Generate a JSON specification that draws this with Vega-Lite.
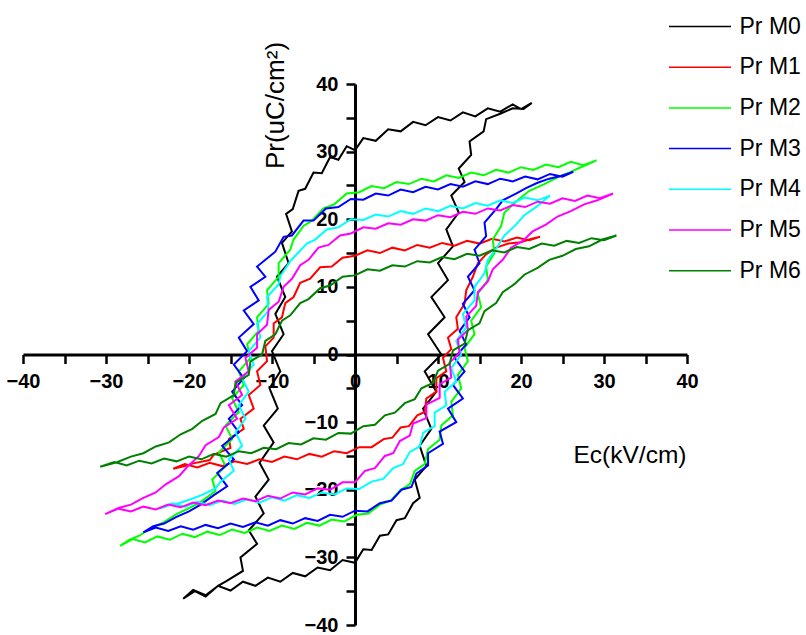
{
"$schema":"https://vega.github.io/schema/vega-lite/v6.json",
"width":664,"height":541,
"autosize":{"type":"none"},
"padding":{"left":23,"top":84,"right":119,"bottom":10},
"background":"white",
"config":{"view":{"stroke":null},"font":"Liberation Sans"},
"data":{"values":[
{"s":"Pr M0","E":21.3,"P":37.2},{"s":"Pr M0","E":20,"P":36.3},{"s":"Pr M0","E":19,"P":37.0},{"s":"Pr M0","E":17.5,"P":35.9},{"s":"Pr M0","E":16,"P":36.4},{"s":"Pr M0","E":14.5,"P":35.2},{"s":"Pr M0","E":13,"P":35.8},{"s":"Pr M0","E":11.5,"P":34.6},{"s":"Pr M0","E":10,"P":35.1},{"s":"Pr M0","E":8.5,"P":33.9},{"s":"Pr M0","E":7,"P":34.4},{"s":"Pr M0","E":5.5,"P":33.0},{"s":"Pr M0","E":4,"P":33.3},{"s":"Pr M0","E":2.5,"P":31.6},{"s":"Pr M0","E":1,"P":32.0},{"s":"Pr M0","E":0,"P":30.2},{"s":"Pr M0","E":-1,"P":30.8},{"s":"Pr M0","E":-2,"P":28.8},{"s":"Pr M0","E":-3,"P":29.2},{"s":"Pr M0","E":-4,"P":26.8},{"s":"Pr M0","E":-5,"P":26.9},{"s":"Pr M0","E":-6,"P":24.5},{"s":"Pr M0","E":-6.8,"P":24.2},{"s":"Pr M0","E":-7.5,"P":21.5},{"s":"Pr M0","E":-8.3,"P":20.8},{"s":"Pr M0","E":-7.6,"P":18.2},{"s":"Pr M0","E":-8.8,"P":16.5},{"s":"Pr M0","E":-8.0,"P":13.5},{"s":"Pr M0","E":-9.4,"P":11.5},{"s":"Pr M0","E":-8.4,"P":8.5},{"s":"Pr M0","E":-9.6,"P":6},{"s":"Pr M0","E":-8.6,"P":3},{"s":"Pr M0","E":-10,"P":0.5},{"s":"Pr M0","E":-9,"P":-2.5},{"s":"Pr M0","E":-10.3,"P":-5},{"s":"Pr M0","E":-9.3,"P":-8},{"s":"Pr M0","E":-11,"P":-10.5},{"s":"Pr M0","E":-9.8,"P":-13},{"s":"Pr M0","E":-11.5,"P":-16},{"s":"Pr M0","E":-10.4,"P":-18.5},{"s":"Pr M0","E":-12,"P":-21},{"s":"Pr M0","E":-11,"P":-23.5},{"s":"Pr M0","E":-12.8,"P":-26},{"s":"Pr M0","E":-11.8,"P":-28},{"s":"Pr M0","E":-13.8,"P":-30},{"s":"Pr M0","E":-13.5,"P":-32},{"s":"Pr M0","E":-15.5,"P":-33.5},{"s":"Pr M0","E":-16.5,"P":-34.2},{"s":"Pr M0","E":-18,"P":-35.8},{"s":"Pr M0","E":-19.3,"P":-35},{"s":"Pr M0","E":-20.7,"P":-36.1},
{"s":"Pr M0","E":-19.5,"P":-34.8},{"s":"Pr M0","E":-18,"P":-35.6},{"s":"Pr M0","E":-16.5,"P":-34.2},{"s":"Pr M0","E":-15,"P":-34.9},{"s":"Pr M0","E":-13.5,"P":-33.6},{"s":"Pr M0","E":-12,"P":-34.2},{"s":"Pr M0","E":-10.5,"P":-33.0},{"s":"Pr M0","E":-9,"P":-33.6},{"s":"Pr M0","E":-7.5,"P":-32.3},{"s":"Pr M0","E":-6,"P":-32.8},{"s":"Pr M0","E":-4.5,"P":-31.5},{"s":"Pr M0","E":-3,"P":-31.9},{"s":"Pr M0","E":-1.5,"P":-30.4},{"s":"Pr M0","E":0,"P":-30.8},{"s":"Pr M0","E":1,"P":-28.8},{"s":"Pr M0","E":2,"P":-28.9},{"s":"Pr M0","E":3,"P":-26.8},{"s":"Pr M0","E":4,"P":-26.6},{"s":"Pr M0","E":5,"P":-24.5},{"s":"Pr M0","E":6,"P":-24.2},{"s":"Pr M0","E":7,"P":-22},{"s":"Pr M0","E":7.8,"P":-21.2},{"s":"Pr M0","E":7.2,"P":-18.5},{"s":"Pr M0","E":8.6,"P":-16.5},{"s":"Pr M0","E":7.8,"P":-13.5},{"s":"Pr M0","E":9.2,"P":-11},{"s":"Pr M0","E":8.2,"P":-8},{"s":"Pr M0","E":9.8,"P":-5.5},{"s":"Pr M0","E":8.4,"P":-2.5},{"s":"Pr M0","E":10.4,"P":0},{"s":"Pr M0","E":8.8,"P":3},{"s":"Pr M0","E":10.8,"P":5.5},{"s":"Pr M0","E":9.2,"P":8.5},{"s":"Pr M0","E":11.2,"P":11},{"s":"Pr M0","E":10,"P":13.5},{"s":"Pr M0","E":11.8,"P":16},{"s":"Pr M0","E":11,"P":18.5},{"s":"Pr M0","E":12.5,"P":21},{"s":"Pr M0","E":11.6,"P":23.5},{"s":"Pr M0","E":13.2,"P":25.5},{"s":"Pr M0","E":12.5,"P":27.5},{"s":"Pr M0","E":14,"P":29.5},{"s":"Pr M0","E":13.8,"P":31.5},{"s":"Pr M0","E":15.5,"P":33},{"s":"Pr M0","E":15.8,"P":34.8},{"s":"Pr M0","E":17.5,"P":35.6},{"s":"Pr M0","E":19,"P":36.4},{"s":"Pr M0","E":20.3,"P":36.3},{"s":"Pr M0","E":21.3,"P":37.2},

{"s":"Pr M1","E":22.3,"P":17.4},{"s":"Pr M1","E":21,"P":16.9},{"s":"Pr M1","E":19.5,"P":17.3},{"s":"Pr M1","E":18,"P":16.7},{"s":"Pr M1","E":16.5,"P":17.1},{"s":"Pr M1","E":15,"P":16.4},{"s":"Pr M1","E":13.5,"P":16.8},{"s":"Pr M1","E":12,"P":16.1},{"s":"Pr M1","E":10.5,"P":16.5},{"s":"Pr M1","E":9,"P":15.8},{"s":"Pr M1","E":7.5,"P":16.2},{"s":"Pr M1","E":6,"P":15.4},{"s":"Pr M1","E":4.5,"P":15.8},{"s":"Pr M1","E":3,"P":15.0},{"s":"Pr M1","E":1.5,"P":15.4},{"s":"Pr M1","E":0,"P":14.6},{"s":"Pr M1","E":-1.5,"P":14.3},{"s":"Pr M1","E":-2.8,"P":13.0},{"s":"Pr M1","E":-4.2,"P":12.9},{"s":"Pr M1","E":-5.4,"P":11.2},{"s":"Pr M1","E":-6.6,"P":10.6},{"s":"Pr M1","E":-7.4,"P":8.5},{"s":"Pr M1","E":-8.4,"P":7.6},{"s":"Pr M1","E":-8.8,"P":5.5},{"s":"Pr M1","E":-9.8,"P":4.6},{"s":"Pr M1","E":-9.8,"P":2.5},{"s":"Pr M1","E":-10.8,"P":1.2},{"s":"Pr M1","E":-10.6,"P":-1},{"s":"Pr M1","E":-11.8,"P":-2.5},{"s":"Pr M1","E":-11.4,"P":-4.5},{"s":"Pr M1","E":-12.8,"P":-6},{"s":"Pr M1","E":-12.2,"P":-8},{"s":"Pr M1","E":-13.8,"P":-9.5},{"s":"Pr M1","E":-13.4,"P":-11},{"s":"Pr M1","E":-15.2,"P":-12.5},{"s":"Pr M1","E":-15,"P":-13.8},{"s":"Pr M1","E":-17,"P":-14.8},{"s":"Pr M1","E":-17.5,"P":-15.6},{"s":"Pr M1","E":-19.5,"P":-16.1},{"s":"Pr M1","E":-20.5,"P":-16.5},{"s":"Pr M1","E":-21.9,"P":-16.9},
{"s":"Pr M1","E":-20.5,"P":-16.2},{"s":"Pr M1","E":-19,"P":-16.7},{"s":"Pr M1","E":-17.5,"P":-16.0},{"s":"Pr M1","E":-16,"P":-16.5},{"s":"Pr M1","E":-14.5,"P":-15.8},{"s":"Pr M1","E":-13,"P":-16.2},{"s":"Pr M1","E":-11.5,"P":-15.5},{"s":"Pr M1","E":-10,"P":-15.9},{"s":"Pr M1","E":-8.5,"P":-15.1},{"s":"Pr M1","E":-7,"P":-15.5},{"s":"Pr M1","E":-5.5,"P":-14.7},{"s":"Pr M1","E":-4,"P":-15.1},{"s":"Pr M1","E":-2.5,"P":-14.3},{"s":"Pr M1","E":-1,"P":-14.6},{"s":"Pr M1","E":0.5,"P":-13.7},{"s":"Pr M1","E":2,"P":-13.7},{"s":"Pr M1","E":3.5,"P":-12.5},{"s":"Pr M1","E":4.5,"P":-12.3},{"s":"Pr M1","E":5.5,"P":-10.8},{"s":"Pr M1","E":6.5,"P":-10.6},{"s":"Pr M1","E":7.5,"P":-9.0},{"s":"Pr M1","E":8.4,"P":-8.5},{"s":"Pr M1","E":8.6,"P":-6.5},{"s":"Pr M1","E":9.8,"P":-5.5},{"s":"Pr M1","E":9.8,"P":-3.5},{"s":"Pr M1","E":11,"P":-2.5},{"s":"Pr M1","E":10.6,"P":-0.5},{"s":"Pr M1","E":11.6,"P":0.8},{"s":"Pr M1","E":11.2,"P":2.5},{"s":"Pr M1","E":12.4,"P":3.8},{"s":"Pr M1","E":12.2,"P":5.5},{"s":"Pr M1","E":13.2,"P":7.5},{"s":"Pr M1","E":13.4,"P":9.5},{"s":"Pr M1","E":14.2,"P":11.5},{"s":"Pr M1","E":14.8,"P":13.5},{"s":"Pr M1","E":15.8,"P":14.8},{"s":"Pr M1","E":17,"P":15.8},{"s":"Pr M1","E":18.5,"P":16.4},{"s":"Pr M1","E":20,"P":16.6},{"s":"Pr M1","E":21.2,"P":17.1},{"s":"Pr M1","E":22.3,"P":17.4},

{"s":"Pr M2","E":29.1,"P":28.7},{"s":"Pr M2","E":27.5,"P":28.0},{"s":"Pr M2","E":26,"P":28.5},{"s":"Pr M2","E":24.5,"P":27.7},{"s":"Pr M2","E":23,"P":28.1},{"s":"Pr M2","E":21.5,"P":27.3},{"s":"Pr M2","E":20,"P":27.7},{"s":"Pr M2","E":18.5,"P":26.9},{"s":"Pr M2","E":17,"P":27.3},{"s":"Pr M2","E":15.5,"P":26.5},{"s":"Pr M2","E":14,"P":26.9},{"s":"Pr M2","E":12.5,"P":26.1},{"s":"Pr M2","E":11,"P":26.5},{"s":"Pr M2","E":9.5,"P":25.6},{"s":"Pr M2","E":8,"P":26.0},{"s":"Pr M2","E":6.5,"P":25.2},{"s":"Pr M2","E":5,"P":25.5},{"s":"Pr M2","E":3.5,"P":24.6},{"s":"Pr M2","E":2,"P":24.9},{"s":"Pr M2","E":0.5,"P":24.0},{"s":"Pr M2","E":-1,"P":23.8},{"s":"Pr M2","E":-2.5,"P":22.2},{"s":"Pr M2","E":-3.8,"P":21.6},{"s":"Pr M2","E":-5.2,"P":19.8},{"s":"Pr M2","E":-6.2,"P":19.0},{"s":"Pr M2","E":-7.4,"P":17.0},{"s":"Pr M2","E":-7.8,"P":15.5},{"s":"Pr M2","E":-9.2,"P":13.5},{"s":"Pr M2","E":-9.2,"P":11.5},{"s":"Pr M2","E":-10.6,"P":9.5},{"s":"Pr M2","E":-10.4,"P":7.5},{"s":"Pr M2","E":-11.8,"P":5.5},{"s":"Pr M2","E":-11.6,"P":3.5},{"s":"Pr M2","E":-13,"P":1.5},{"s":"Pr M2","E":-12.6,"P":-0.5},{"s":"Pr M2","E":-14,"P":-2.5},{"s":"Pr M2","E":-13.4,"P":-4.5},{"s":"Pr M2","E":-14.8,"P":-6.5},{"s":"Pr M2","E":-14,"P":-8.5},{"s":"Pr M2","E":-15.6,"P":-10.5},{"s":"Pr M2","E":-14.8,"P":-12.5},{"s":"Pr M2","E":-16.4,"P":-14.5},{"s":"Pr M2","E":-15.6,"P":-16.5},{"s":"Pr M2","E":-17.2,"P":-18.5},{"s":"Pr M2","E":-16.8,"P":-20.2},{"s":"Pr M2","E":-18.6,"P":-21.8},{"s":"Pr M2","E":-19.8,"P":-22.6},{"s":"Pr M2","E":-21.5,"P":-23.6},{"s":"Pr M2","E":-23,"P":-24.8},{"s":"Pr M2","E":-24.5,"P":-25.6},{"s":"Pr M2","E":-26,"P":-26.8},{"s":"Pr M2","E":-27.2,"P":-27.4},{"s":"Pr M2","E":-28.3,"P":-28.3},
{"s":"Pr M2","E":-26.8,"P":-27.3},{"s":"Pr M2","E":-25.3,"P":-27.8},{"s":"Pr M2","E":-23.8,"P":-26.9},{"s":"Pr M2","E":-22.3,"P":-27.4},{"s":"Pr M2","E":-20.8,"P":-26.5},{"s":"Pr M2","E":-19.3,"P":-27.0},{"s":"Pr M2","E":-17.8,"P":-26.2},{"s":"Pr M2","E":-16.3,"P":-26.7},{"s":"Pr M2","E":-14.8,"P":-25.9},{"s":"Pr M2","E":-13.3,"P":-26.4},{"s":"Pr M2","E":-11.8,"P":-25.6},{"s":"Pr M2","E":-10.3,"P":-26.1},{"s":"Pr M2","E":-8.8,"P":-25.3},{"s":"Pr M2","E":-7.3,"P":-25.8},{"s":"Pr M2","E":-5.8,"P":-24.9},{"s":"Pr M2","E":-4.3,"P":-25.3},{"s":"Pr M2","E":-2.8,"P":-24.4},{"s":"Pr M2","E":-1.3,"P":-24.7},{"s":"Pr M2","E":0.2,"P":-23.7},{"s":"Pr M2","E":1.6,"P":-23.5},{"s":"Pr M2","E":3,"P":-22.2},{"s":"Pr M2","E":4.3,"P":-21.6},{"s":"Pr M2","E":5.5,"P":-20.0},{"s":"Pr M2","E":6.6,"P":-19.2},{"s":"Pr M2","E":7.2,"P":-17.2},{"s":"Pr M2","E":8.4,"P":-16.2},{"s":"Pr M2","E":8.8,"P":-14.0},{"s":"Pr M2","E":10.2,"P":-12.6},{"s":"Pr M2","E":10.4,"P":-10.5},{"s":"Pr M2","E":11.8,"P":-9.0},{"s":"Pr M2","E":11.6,"P":-7.0},{"s":"Pr M2","E":12.8,"P":-5.0},{"s":"Pr M2","E":12.4,"P":-3.0},{"s":"Pr M2","E":13.6,"P":-1.0},{"s":"Pr M2","E":13.2,"P":1.0},{"s":"Pr M2","E":14.4,"P":3.0},{"s":"Pr M2","E":14,"P":5.0},{"s":"Pr M2","E":15.2,"P":7.0},{"s":"Pr M2","E":14.8,"P":9.0},{"s":"Pr M2","E":16,"P":11.0},{"s":"Pr M2","E":15.8,"P":13.0},{"s":"Pr M2","E":16.8,"P":15.0},{"s":"Pr M2","E":16.6,"P":17.0},{"s":"Pr M2","E":17.6,"P":19.0},{"s":"Pr M2","E":18,"P":21.0},{"s":"Pr M2","E":19.6,"P":22.8},{"s":"Pr M2","E":21,"P":24.2},{"s":"Pr M2","E":22.8,"P":25.2},{"s":"Pr M2","E":24.4,"P":26.2},{"s":"Pr M2","E":26,"P":27.0},{"s":"Pr M2","E":27.4,"P":27.8},{"s":"Pr M2","E":29.1,"P":28.7},

{"s":"Pr M3","E":26.3,"P":27.0},{"s":"Pr M3","E":25,"P":26.3},{"s":"Pr M3","E":23.5,"P":26.7},{"s":"Pr M3","E":22,"P":25.9},{"s":"Pr M3","E":20.5,"P":26.3},{"s":"Pr M3","E":19,"P":25.6},{"s":"Pr M3","E":17.5,"P":26.0},{"s":"Pr M3","E":16,"P":25.2},{"s":"Pr M3","E":14.5,"P":25.6},{"s":"Pr M3","E":13,"P":24.8},{"s":"Pr M3","E":11.5,"P":25.2},{"s":"Pr M3","E":10,"P":24.4},{"s":"Pr M3","E":8.5,"P":24.8},{"s":"Pr M3","E":7,"P":24.0},{"s":"Pr M3","E":5.5,"P":24.4},{"s":"Pr M3","E":4,"P":23.5},{"s":"Pr M3","E":2.5,"P":23.8},{"s":"Pr M3","E":1,"P":22.9},{"s":"Pr M3","E":-0.5,"P":23.0},{"s":"Pr M3","E":-2,"P":21.8},{"s":"Pr M3","E":-3.5,"P":21.6},{"s":"Pr M3","E":-5,"P":19.8},{"s":"Pr M3","E":-6.2,"P":19.8},{"s":"Pr M3","E":-7.6,"P":17.6},{"s":"Pr M3","E":-8.6,"P":17.4},{"s":"Pr M3","E":-9.6,"P":15.2},{"s":"Pr M3","E":-10.2,"P":14.6},{"s":"Pr M3","E":-11.8,"P":13},{"s":"Pr M3","E":-10.8,"P":11.5},{"s":"Pr M3","E":-12.6,"P":10},{"s":"Pr M3","E":-11.6,"P":8},{"s":"Pr M3","E":-13.4,"P":6.5},{"s":"Pr M3","E":-12.2,"P":4.5},{"s":"Pr M3","E":-14,"P":2.5},{"s":"Pr M3","E":-13,"P":0.5},{"s":"Pr M3","E":-14.6,"P":-1.5},{"s":"Pr M3","E":-13.4,"P":-3.5},{"s":"Pr M3","E":-14.8,"P":-5.5},{"s":"Pr M3","E":-13.6,"P":-7.5},{"s":"Pr M3","E":-15.2,"P":-9.5},{"s":"Pr M3","E":-14,"P":-11.5},{"s":"Pr M3","E":-16,"P":-13.5},{"s":"Pr M3","E":-14.6,"P":-15.5},{"s":"Pr M3","E":-16.6,"P":-17.5},{"s":"Pr M3","E":-15.4,"P":-19.5},{"s":"Pr M3","E":-17,"P":-20.8},{"s":"Pr M3","E":-18.6,"P":-22.2},{"s":"Pr M3","E":-20,"P":-23.2},{"s":"Pr M3","E":-21.5,"P":-24.0},{"s":"Pr M3","E":-23,"P":-25.0},{"s":"Pr M3","E":-24.3,"P":-25.4},{"s":"Pr M3","E":-25.5,"P":-26.3},
{"s":"Pr M3","E":-24,"P":-25.6},{"s":"Pr M3","E":-22.5,"P":-26.1},{"s":"Pr M3","E":-21,"P":-25.4},{"s":"Pr M3","E":-19.5,"P":-25.9},{"s":"Pr M3","E":-18,"P":-25.2},{"s":"Pr M3","E":-16.5,"P":-25.7},{"s":"Pr M3","E":-15,"P":-25.0},{"s":"Pr M3","E":-13.5,"P":-25.5},{"s":"Pr M3","E":-12,"P":-24.8},{"s":"Pr M3","E":-10.5,"P":-25.3},{"s":"Pr M3","E":-9,"P":-24.5},{"s":"Pr M3","E":-7.5,"P":-25.0},{"s":"Pr M3","E":-6,"P":-24.2},{"s":"Pr M3","E":-4.5,"P":-24.6},{"s":"Pr M3","E":-3,"P":-23.7},{"s":"Pr M3","E":-1.5,"P":-24.0},{"s":"Pr M3","E":0,"P":-23.1},{"s":"Pr M3","E":1.5,"P":-23.2},{"s":"Pr M3","E":3,"P":-22.0},{"s":"Pr M3","E":4.4,"P":-21.6},{"s":"Pr M3","E":5.6,"P":-20.0},{"s":"Pr M3","E":6.8,"P":-19.6},{"s":"Pr M3","E":7.4,"P":-17.6},{"s":"Pr M3","E":8.8,"P":-16.4},{"s":"Pr M3","E":8.8,"P":-14.6},{"s":"Pr M3","E":10.6,"P":-13.2},{"s":"Pr M3","E":10.2,"P":-11.4},{"s":"Pr M3","E":12.2,"P":-10},{"s":"Pr M3","E":11.2,"P":-8},{"s":"Pr M3","E":13,"P":-6.5},{"s":"Pr M3","E":11.8,"P":-4.5},{"s":"Pr M3","E":13.2,"P":-2.5},{"s":"Pr M3","E":12,"P":-0.5},{"s":"Pr M3","E":13.4,"P":1.5},{"s":"Pr M3","E":12.6,"P":3.5},{"s":"Pr M3","E":13.8,"P":5.5},{"s":"Pr M3","E":13,"P":7.5},{"s":"Pr M3","E":14.4,"P":9.5},{"s":"Pr M3","E":13.6,"P":11.5},{"s":"Pr M3","E":15,"P":13.5},{"s":"Pr M3","E":14.4,"P":15.5},{"s":"Pr M3","E":15.8,"P":17.5},{"s":"Pr M3","E":15.6,"P":19.5},{"s":"Pr M3","E":17,"P":21.5},{"s":"Pr M3","E":17.8,"P":22.8},{"s":"Pr M3","E":19.4,"P":23.8},{"s":"Pr M3","E":20.6,"P":24.6},{"s":"Pr M3","E":22,"P":25.4},{"s":"Pr M3","E":23.4,"P":26.0},{"s":"Pr M3","E":24.8,"P":26.4},{"s":"Pr M3","E":26.3,"P":27.0},

{"s":"Pr M4","E":23.5,"P":23.5},{"s":"Pr M4","E":22,"P":22.8},{"s":"Pr M4","E":20.5,"P":23.2},{"s":"Pr M4","E":19,"P":22.4},{"s":"Pr M4","E":17.5,"P":22.8},{"s":"Pr M4","E":16,"P":22.0},{"s":"Pr M4","E":14.5,"P":22.4},{"s":"Pr M4","E":13,"P":21.6},{"s":"Pr M4","E":11.5,"P":22.0},{"s":"Pr M4","E":10,"P":21.2},{"s":"Pr M4","E":8.5,"P":21.6},{"s":"Pr M4","E":7,"P":20.8},{"s":"Pr M4","E":5.5,"P":21.2},{"s":"Pr M4","E":4,"P":20.4},{"s":"Pr M4","E":2.5,"P":20.7},{"s":"Pr M4","E":1,"P":19.9},{"s":"Pr M4","E":-0.5,"P":20.0},{"s":"Pr M4","E":-2,"P":18.8},{"s":"Pr M4","E":-3.4,"P":18.5},{"s":"Pr M4","E":-4.8,"P":17.0},{"s":"Pr M4","E":-5.8,"P":16.4},{"s":"Pr M4","E":-7.2,"P":14.6},{"s":"Pr M4","E":-7.8,"P":13.8},{"s":"Pr M4","E":-9,"P":11.6},{"s":"Pr M4","E":-9.2,"P":10.4},{"s":"Pr M4","E":-10.6,"P":8.5},{"s":"Pr M4","E":-10.4,"P":6.5},{"s":"Pr M4","E":-11.8,"P":4.5},{"s":"Pr M4","E":-11.4,"P":2.5},{"s":"Pr M4","E":-12.8,"P":0.5},{"s":"Pr M4","E":-12.2,"P":-1.5},{"s":"Pr M4","E":-13.6,"P":-3.5},{"s":"Pr M4","E":-12.8,"P":-5.5},{"s":"Pr M4","E":-14,"P":-7.5},{"s":"Pr M4","E":-13.2,"P":-9.5},{"s":"Pr M4","E":-14.4,"P":-11.5},{"s":"Pr M4","E":-13.6,"P":-13.5},{"s":"Pr M4","E":-15.2,"P":-15.5},{"s":"Pr M4","E":-14.6,"P":-17.2},{"s":"Pr M4","E":-16.2,"P":-18.8},{"s":"Pr M4","E":-16.8,"P":-19.8},{"s":"Pr M4","E":-18.5,"P":-20.8},{"s":"Pr M4","E":-19.8,"P":-21.4},{"s":"Pr M4","E":-21.2,"P":-22.0},{"s":"Pr M4","E":-22.4,"P":-22.3},{"s":"Pr M4","E":-23.5,"P":-22.8},
{"s":"Pr M4","E":-22,"P":-22.0},{"s":"Pr M4","E":-20.5,"P":-22.5},{"s":"Pr M4","E":-19,"P":-21.8},{"s":"Pr M4","E":-17.5,"P":-22.3},{"s":"Pr M4","E":-16,"P":-21.6},{"s":"Pr M4","E":-14.5,"P":-22.1},{"s":"Pr M4","E":-13,"P":-21.4},{"s":"Pr M4","E":-11.5,"P":-21.9},{"s":"Pr M4","E":-10,"P":-21.1},{"s":"Pr M4","E":-8.5,"P":-21.6},{"s":"Pr M4","E":-7,"P":-20.8},{"s":"Pr M4","E":-5.5,"P":-21.2},{"s":"Pr M4","E":-4,"P":-20.4},{"s":"Pr M4","E":-2.5,"P":-20.7},{"s":"Pr M4","E":-1,"P":-19.8},{"s":"Pr M4","E":0.5,"P":-19.9},{"s":"Pr M4","E":2,"P":-18.8},{"s":"Pr M4","E":3.4,"P":-18.4},{"s":"Pr M4","E":4.6,"P":-16.8},{"s":"Pr M4","E":5.8,"P":-16.2},{"s":"Pr M4","E":6.6,"P":-14.4},{"s":"Pr M4","E":7.8,"P":-13.6},{"s":"Pr M4","E":8.2,"P":-11.6},{"s":"Pr M4","E":9.6,"P":-10.6},{"s":"Pr M4","E":9.6,"P":-8.6},{"s":"Pr M4","E":11,"P":-7.5},{"s":"Pr M4","E":10.8,"P":-5.5},{"s":"Pr M4","E":12.2,"P":-4},{"s":"Pr M4","E":11.6,"P":-2},{"s":"Pr M4","E":12.8,"P":0},{"s":"Pr M4","E":12.2,"P":2},{"s":"Pr M4","E":13.4,"P":4},{"s":"Pr M4","E":13,"P":6},{"s":"Pr M4","E":14.4,"P":8},{"s":"Pr M4","E":14.4,"P":10},{"s":"Pr M4","E":15.6,"P":12},{"s":"Pr M4","E":16,"P":14},{"s":"Pr M4","E":17.2,"P":16},{"s":"Pr M4","E":18,"P":17.6},{"s":"Pr M4","E":19.4,"P":19.2},{"s":"Pr M4","E":20.4,"P":20.6},{"s":"Pr M4","E":21.8,"P":21.8},{"s":"Pr M4","E":22.6,"P":22.6},{"s":"Pr M4","E":23.5,"P":23.5},

{"s":"Pr M5","E":31.1,"P":23.8},{"s":"Pr M5","E":29.5,"P":23.1},{"s":"Pr M5","E":28,"P":23.5},{"s":"Pr M5","E":26.5,"P":22.7},{"s":"Pr M5","E":25,"P":23.1},{"s":"Pr M5","E":23.5,"P":22.3},{"s":"Pr M5","E":22,"P":22.6},{"s":"Pr M5","E":20.5,"P":21.8},{"s":"Pr M5","E":19,"P":22.1},{"s":"Pr M5","E":17.5,"P":21.3},{"s":"Pr M5","E":16,"P":21.6},{"s":"Pr M5","E":14.5,"P":20.8},{"s":"Pr M5","E":13,"P":21.1},{"s":"Pr M5","E":11.5,"P":20.3},{"s":"Pr M5","E":10,"P":20.6},{"s":"Pr M5","E":8.5,"P":19.8},{"s":"Pr M5","E":7,"P":20.0},{"s":"Pr M5","E":5.5,"P":19.2},{"s":"Pr M5","E":4,"P":19.4},{"s":"Pr M5","E":2.5,"P":18.6},{"s":"Pr M5","E":1,"P":18.8},{"s":"Pr M5","E":-0.5,"P":17.9},{"s":"Pr M5","E":-1.8,"P":17.6},{"s":"Pr M5","E":-3.2,"P":16.2},{"s":"Pr M5","E":-4.4,"P":15.8},{"s":"Pr M5","E":-5.6,"P":14.0},{"s":"Pr M5","E":-6.6,"P":13.2},{"s":"Pr M5","E":-7.6,"P":11.2},{"s":"Pr M5","E":-8.6,"P":10.0},{"s":"Pr M5","E":-9.2,"P":7.8},{"s":"Pr M5","E":-10.4,"P":6.6},{"s":"Pr M5","E":-10.6,"P":4.4},{"s":"Pr M5","E":-11.8,"P":3.0},{"s":"Pr M5","E":-11.8,"P":1.0},{"s":"Pr M5","E":-13.2,"P":-0.5},{"s":"Pr M5","E":-12.8,"P":-2.5},{"s":"Pr M5","E":-14.4,"P":-4},{"s":"Pr M5","E":-13.6,"P":-6},{"s":"Pr M5","E":-15.2,"P":-7.5},{"s":"Pr M5","E":-14.2,"P":-9.5},{"s":"Pr M5","E":-15.8,"P":-10.8},{"s":"Pr M5","E":-16.4,"P":-12.2},{"s":"Pr M5","E":-18,"P":-13.4},{"s":"Pr M5","E":-18.8,"P":-15},{"s":"Pr M5","E":-20.2,"P":-16.6},{"s":"Pr M5","E":-21.2,"P":-18},{"s":"Pr M5","E":-22.8,"P":-19.2},{"s":"Pr M5","E":-24,"P":-20.4},{"s":"Pr M5","E":-25.5,"P":-21.2},{"s":"Pr M5","E":-27,"P":-22.2},{"s":"Pr M5","E":-28.5,"P":-22.7},{"s":"Pr M5","E":-30.1,"P":-23.6},
{"s":"Pr M5","E":-28.5,"P":-22.8},{"s":"Pr M5","E":-27,"P":-23.2},{"s":"Pr M5","E":-25.5,"P":-22.5},{"s":"Pr M5","E":-24,"P":-22.9},{"s":"Pr M5","E":-22.5,"P":-22.2},{"s":"Pr M5","E":-21,"P":-22.6},{"s":"Pr M5","E":-19.5,"P":-21.9},{"s":"Pr M5","E":-18,"P":-22.3},{"s":"Pr M5","E":-16.5,"P":-21.6},{"s":"Pr M5","E":-15,"P":-22.0},{"s":"Pr M5","E":-13.5,"P":-21.3},{"s":"Pr M5","E":-12,"P":-21.7},{"s":"Pr M5","E":-10.5,"P":-20.9},{"s":"Pr M5","E":-9,"P":-21.3},{"s":"Pr M5","E":-7.5,"P":-20.4},{"s":"Pr M5","E":-6,"P":-20.7},{"s":"Pr M5","E":-4.5,"P":-19.8},{"s":"Pr M5","E":-3,"P":-20.0},{"s":"Pr M5","E":-1.5,"P":-18.9},{"s":"Pr M5","E":0,"P":-18.9},{"s":"Pr M5","E":1.2,"P":-17.2},{"s":"Pr M5","E":2.4,"P":-16.8},{"s":"Pr M5","E":3.6,"P":-15.0},{"s":"Pr M5","E":4.6,"P":-14.6},{"s":"Pr M5","E":5.4,"P":-12.8},{"s":"Pr M5","E":6.6,"P":-12},{"s":"Pr M5","E":7,"P":-10.2},{"s":"Pr M5","E":8.6,"P":-9.4},{"s":"Pr M5","E":8.6,"P":-7.4},{"s":"Pr M5","E":10.2,"P":-6.4},{"s":"Pr M5","E":10.2,"P":-4.4},{"s":"Pr M5","E":11.6,"P":-3.4},{"s":"Pr M5","E":11.4,"P":-1.2},{"s":"Pr M5","E":12.6,"P":0.2},{"s":"Pr M5","E":12.4,"P":2.2},{"s":"Pr M5","E":13.6,"P":3.6},{"s":"Pr M5","E":13.4,"P":5.6},{"s":"Pr M5","E":14.6,"P":7.2},{"s":"Pr M5","E":14.8,"P":9.2},{"s":"Pr M5","E":16,"P":10.8},{"s":"Pr M5","E":16.6,"P":12.6},{"s":"Pr M5","E":17.8,"P":14.0},{"s":"Pr M5","E":18.8,"P":15.8},{"s":"Pr M5","E":20.2,"P":16.8},{"s":"Pr M5","E":21.4,"P":18.2},{"s":"Pr M5","E":23,"P":19.2},{"s":"Pr M5","E":24.4,"P":20.4},{"s":"Pr M5","E":26,"P":21.2},{"s":"Pr M5","E":27.6,"P":22.2},{"s":"Pr M5","E":29.2,"P":22.8},{"s":"Pr M5","E":31.1,"P":23.8},

{"s":"Pr M6","E":31.5,"P":17.6},{"s":"Pr M6","E":30,"P":16.9},{"s":"Pr M6","E":28.5,"P":17.2},{"s":"Pr M6","E":27,"P":16.5},{"s":"Pr M6","E":25.5,"P":16.8},{"s":"Pr M6","E":24,"P":16.1},{"s":"Pr M6","E":22.5,"P":16.4},{"s":"Pr M6","E":21,"P":15.6},{"s":"Pr M6","E":19.5,"P":15.9},{"s":"Pr M6","E":18,"P":15.1},{"s":"Pr M6","E":16.5,"P":15.4},{"s":"Pr M6","E":15,"P":14.6},{"s":"Pr M6","E":13.5,"P":14.9},{"s":"Pr M6","E":12,"P":14.1},{"s":"Pr M6","E":10.5,"P":14.4},{"s":"Pr M6","E":9,"P":13.6},{"s":"Pr M6","E":7.5,"P":13.8},{"s":"Pr M6","E":6,"P":13.0},{"s":"Pr M6","E":4.5,"P":13.2},{"s":"Pr M6","E":3,"P":12.4},{"s":"Pr M6","E":1.5,"P":12.6},{"s":"Pr M6","E":0,"P":11.7},{"s":"Pr M6","E":-1.5,"P":11.5},{"s":"Pr M6","E":-3,"P":10.2},{"s":"Pr M6","E":-4.2,"P":9.8},{"s":"Pr M6","E":-5.6,"P":8.2},{"s":"Pr M6","E":-6.6,"P":7.6},{"s":"Pr M6","E":-7.8,"P":5.8},{"s":"Pr M6","E":-8.8,"P":5.0},{"s":"Pr M6","E":-9.6,"P":3.0},{"s":"Pr M6","E":-10.8,"P":2.0},{"s":"Pr M6","E":-11.2,"P":0},{"s":"Pr M6","E":-12.6,"P":-1},{"s":"Pr M6","E":-12.8,"P":-3},{"s":"Pr M6","E":-14.4,"P":-4.2},{"s":"Pr M6","E":-14.6,"P":-6},{"s":"Pr M6","E":-16.2,"P":-7.2},{"s":"Pr M6","E":-16.8,"P":-8.8},{"s":"Pr M6","E":-18.4,"P":-9.8},{"s":"Pr M6","E":-19.6,"P":-11},{"s":"Pr M6","E":-21,"P":-11.8},{"s":"Pr M6","E":-22.4,"P":-13},{"s":"Pr M6","E":-24,"P":-13.6},{"s":"Pr M6","E":-25.5,"P":-14.6},{"s":"Pr M6","E":-27,"P":-15.1},{"s":"Pr M6","E":-28.6,"P":-15.9},{"s":"Pr M6","E":-30.7,"P":-16.6},
{"s":"Pr M6","E":-29,"P":-15.9},{"s":"Pr M6","E":-27.5,"P":-16.4},{"s":"Pr M6","E":-26,"P":-15.7},{"s":"Pr M6","E":-24.5,"P":-16.1},{"s":"Pr M6","E":-23,"P":-15.4},{"s":"Pr M6","E":-21.5,"P":-15.8},{"s":"Pr M6","E":-20,"P":-15.1},{"s":"Pr M6","E":-18.5,"P":-15.5},{"s":"Pr M6","E":-17,"P":-14.7},{"s":"Pr M6","E":-15.5,"P":-15.1},{"s":"Pr M6","E":-14,"P":-14.3},{"s":"Pr M6","E":-12.5,"P":-14.6},{"s":"Pr M6","E":-11,"P":-13.8},{"s":"Pr M6","E":-9.5,"P":-14.0},{"s":"Pr M6","E":-8,"P":-13.1},{"s":"Pr M6","E":-6.5,"P":-13.3},{"s":"Pr M6","E":-5,"P":-12.4},{"s":"Pr M6","E":-3.5,"P":-12.6},{"s":"Pr M6","E":-2,"P":-11.6},{"s":"Pr M6","E":-0.5,"P":-11.7},{"s":"Pr M6","E":1,"P":-10.6},{"s":"Pr M6","E":2.4,"P":-10.4},{"s":"Pr M6","E":3.6,"P":-9.0},{"s":"Pr M6","E":4.8,"P":-8.6},{"s":"Pr M6","E":6,"P":-7.2},{"s":"Pr M6","E":7.2,"P":-6.6},{"s":"Pr M6","E":8,"P":-5.0},{"s":"Pr M6","E":9.4,"P":-4.2},{"s":"Pr M6","E":10,"P":-2.4},{"s":"Pr M6","E":11.4,"P":-1.4},{"s":"Pr M6","E":11.8,"P":0.6},{"s":"Pr M6","E":13.2,"P":1.6},{"s":"Pr M6","E":13.6,"P":3.6},{"s":"Pr M6","E":15,"P":4.6},{"s":"Pr M6","E":15.6,"P":6.4},{"s":"Pr M6","E":17,"P":7.6},{"s":"Pr M6","E":17.8,"P":9.2},{"s":"Pr M6","E":19.2,"P":10.4},{"s":"Pr M6","E":20.4,"P":11.8},{"s":"Pr M6","E":22,"P":12.8},{"s":"Pr M6","E":23.4,"P":14.0},{"s":"Pr M6","E":25,"P":14.6},{"s":"Pr M6","E":26.6,"P":15.6},{"s":"Pr M6","E":28.2,"P":16.0},{"s":"Pr M6","E":29.8,"P":17.0},{"s":"Pr M6","E":31.5,"P":17.6}
]},
"mark":{"type":"line","strokeWidth":2,"strokeJoin":"miter"},
"encoding":{
"x":{"field":"E","type":"quantitative","scale":{"domain":[-40,40],"nice":false,"zero":false},
"axis":{"orient":"bottom","offset":-270.5,"values":[-40,-35,-30,-25,-20,-15,-10,-5,0,5,10,15,20,25,30,35,40],"labelExpr":"datum.value % 10 == 0 ? datum.label : ''","grid":false,"domainColor":"black","domainWidth":3,"tickColor":"black","tickWidth":2.5,"tickSize":9,"labelFont":"Liberation Sans","labelFontWeight":"bold","labelFontSize":20,"labelColor":"black","labelPadding":8,"labelOverlap":false,"labelFlush":false,"title":"Ec(kV/cm)","titleFont":"Liberation Sans","titleFontWeight":"normal","titleFontSize":24.5,"titleColor":"black","titleAlign":"right","titleAnchor":null,"titleX":663,"titleY":108,"titleBaseline":"alphabetic"}},
"y":{"field":"P","type":"quantitative","scale":{"domain":[-40,40],"nice":false,"zero":false},
"axis":{"orient":"left","offset":-332,"values":[-40,-35,-30,-25,-20,-15,-10,-5,0,5,10,15,20,25,30,35,40],"labelExpr":"datum.value % 10 == 0 ? datum.label : ''","grid":false,"domainColor":"black","domainWidth":3,"tickColor":"black","tickWidth":2.5,"tickSize":9,"labelFont":"Liberation Sans","labelFontWeight":"bold","labelFontSize":20,"labelColor":"black","labelPadding":8,"labelOverlap":false,"labelFlush":false,"title":"Pr(uC/cm²)","titleFont":"Liberation Sans","titleFontWeight":"normal","titleFontSize":26,"titleColor":"black","titleAngle":270,"titleAlign":"center","titleAnchor":null,"titleX":-72,"titleY":21,"titleBaseline":"alphabetic"}},
"color":{"field":"s","type":"nominal","scale":{"domain":["Pr M0","Pr M1","Pr M2","Pr M3","Pr M4","Pr M5","Pr M6"],"range":["#000000","#ff0000","#00ff00","#0000ff","#00ffff","#ff00ff","#008000"]},
"legend":{"orient":"none","legendX":660.5,"legendY":-74,"title":null,"symbolType":"M-2,0H2","symbolSize":961,"symbolStrokeWidth":1.5,"symbolFillColor":"transparent","labelFontSize":23,"labelFont":"Liberation Sans","labelColor":"black","rowPadding":11.7,"labelOffset":23}},
"order":{"value":null}
}
}
